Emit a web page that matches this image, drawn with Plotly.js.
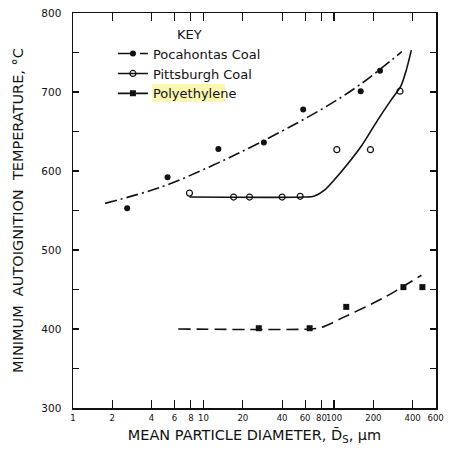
<!DOCTYPE html>
<html>
<head>
<meta charset="utf-8">
<script src="https://cdn.plot.ly/plotly-3.0.1.min.js"></script>
<style>html,body{margin:0;padding:0;background:#fff;}#chart{width:451px;height:453px;}</style>
</head>
<body>
<div id="chart"></div>
<script>
// Measured points
var pocaX = [2.6, 5.3, 13, 29, 58, 160, 225];
var pocaY = [553, 592, 628, 636, 678, 701, 727];
var pittX = [7.8, 17, 22.5, 40, 55, 105, 190, 320];
var pittY = [572, 567, 567, 567, 568, 627, 627, 701];
var polyX = [26.5, 65, 124, 340, 475];
var polyY = [401, 401, 428, 453, 453];

// Fitted curves
var pocaCurveX = [1.76, 4.8, 11.7, 27, 80, 160, 330];
var pocaCurveY = [559, 580, 607, 636, 678, 710, 751];
var pittCurveX = [7.8, 60, 70, 85, 107, 161, 217, 274, 324, 358, 391];
var pittCurveY = [567, 567, 568, 576, 594, 631, 665, 690, 707, 728, 753];
var polyCurveX = [6.4, 66, 80, 119, 243, 467];
var polyCurveY = [400, 400, 402, 415, 440, 468];

var names = ["Pocahontas Coal", "Pittsburgh Coal", "Polyethylene"];
var xTickVals = [1, 2, 4, 6, 8, 10, 20, 40, 60, 80, 100, 200, 400, 600];
var xTickText = ["1", "2", "4", "6", "8", "10", "20", "40", "60", "80", "100", "200", "400", "600"];
var xMinorVals = [3, 5, 7, 9, 30, 50, 70, 90, 300, 500];
var yTickVals = [300, 400, 500, 600, 700, 800];

// interleave nulls so isolated points are not joined but legend shows line+marker
function sep(a) { var o = []; a.forEach(function (v, i) { if (i) o.push(null); o.push(v); }); return o; }

var dashDot = "12px,4px,2px,4px";
var dashed = "12px,6px";
var black = "#111";

var traces = [
  {x: pocaCurveX, y: pocaCurveY, mode: "lines", line: {color: black, width: 1.6, dash: dashDot, shape: "spline", smoothing: 1}, showlegend: false, hoverinfo: "skip"},
  {x: pittCurveX, y: pittCurveY, mode: "lines", line: {color: black, width: 1.6, shape: "spline", smoothing: 0.7}, showlegend: false, hoverinfo: "skip"},
  {x: polyCurveX, y: polyCurveY, mode: "lines", line: {color: black, width: 1.6, dash: dashed, shape: "spline", smoothing: 0.8}, showlegend: false, hoverinfo: "skip"},
  {x: sep(pocaX), y: sep(pocaY), name: names[0], mode: "lines+markers", connectgaps: false,
   line: {color: black, width: 1.6, dash: dashDot}, marker: {symbol: "circle", size: 6, color: black}},
  {x: sep(pittX), y: sep(pittY), name: names[1], mode: "lines+markers", connectgaps: false,
   line: {color: black, width: 1.6}, marker: {symbol: "circle-open", size: 6, color: black, line: {width: 1.2}}},
  {x: sep(polyX), y: sep(polyY), name: names[2], mode: "lines+markers", connectgaps: false,
   line: {color: black, width: 1.6, dash: dashed}, marker: {symbol: "square", size: 6, color: black}}
];

var fam = "DejaVu Sans, sans-serif";
var cond = "DejaVu Sans Condensed, DejaVu Sans, sans-serif";
var txt = "#111";
var xRange = [0, 2.781];

var layout = {
  width: 451, height: 453,
  margin: {l: 73, r: 15, t: 13, b: 45},
  paper_bgcolor: "#fff", plot_bgcolor: "#fff",
  font: {family: fam, color: txt, size: 11},
  showlegend: true,
  legend: {x: 0.11, y: 0.978, xanchor: "left", yanchor: "top", bgcolor: "rgba(0,0,0,0)",
           font: {size: 13, color: txt}, title: {text: "KEY", side: "top center", font: {size: 13}},
           tracegroupgap: 0},
  xaxis: {type: "log", range: xRange, showgrid: false, zeroline: false,
          showline: true, linecolor: black, linewidth: 1.5, mirror: "ticks",
          ticks: "inside", ticklen: 8, tickwidth: 1.2, tickcolor: black,
          tickmode: "array", tickvals: xTickVals, ticktext: xTickText, tickangle: 0,
          ticklabeloverflow: "allow",
          tickfont: {family: cond, size: 9.5, color: txt},
          title: {text: "MEAN PARTICLE DIAMETER, D\u0304<sub>S</sub>, \u00b5m", font: {size: 14.5, color: txt}, standoff: 8}},
  xaxis2: {type: "log", range: xRange, overlaying: "x", anchor: "y", side: "bottom",
           showgrid: false, zeroline: false, showline: false, mirror: "ticks",
           ticks: "inside", ticklen: 5, tickwidth: 1, tickcolor: black,
           tickmode: "array", tickvals: xMinorVals, showticklabels: false},
  yaxis: {range: [300, 800], showgrid: false, zeroline: false,
          showline: true, linecolor: black, linewidth: 1.5, mirror: "ticks",
          ticks: "inside", ticklen: 6, tickwidth: 1.2, tickcolor: black,
          tickmode: "array", tickvals: yTickVals, ticklabelstandoff: 8,
          tickfont: {size: 10.5, color: txt},
          minor: {dtick: 50, ticks: "inside", ticklen: 6, tickwidth: 1, tickcolor: black},
          title: {text: "MINIMUM  AUTOIGNITION  TEMPERATURE, \u00b0C", font: {size: 14.5, color: txt}, standoff: 14}},
  shapes: [
    {type: "rect", xref: "paper", yref: "paper", x0: 0.2176, x1: 0.4187, y0: 0.775, y1: 0.82,
     fillcolor: "#fcf6b4", line: {width: 0}, layer: "below"}
  ]
};

Plotly.newPlot("chart", traces, layout, {staticPlot: true, displayModeBar: false});
</script>
</body>
</html>
